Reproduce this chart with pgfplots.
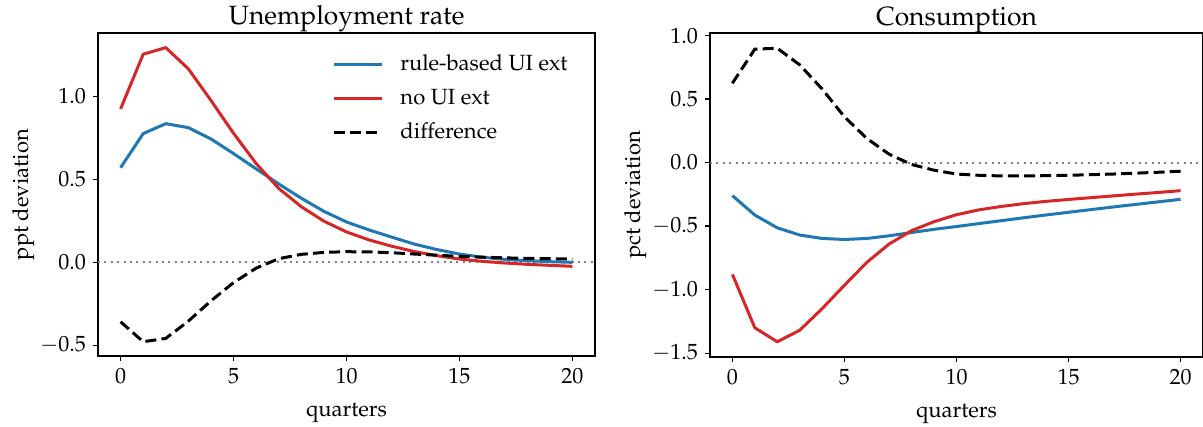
\documentclass[border=0pt]{standalone}
\usepackage[T1]{fontenc}
\usepackage{mathpazo}
\usepackage{pgfplots}
\pgfplotsset{compat=1.18}

\definecolor{tabblue}{HTML}{1F77B4}
\definecolor{tabred}{HTML}{D62728}

\pgfplotsset{
  irf/.style={
    scale only axis,
    anchor=south west,
    font=\fontsize{11}{13}\selectfont,
    xmin=-1, xmax=21,
    xtick={0,5,10,15,20},
    tick align=outside,
    tick pos=left,
    major tick length=2.5pt,
    every tick/.style={black, line width=0.65pt},
    axis line style={line width=0.65pt},
    yticklabel style={/pgf/number format/.cd, fixed, fixed zerofill, precision=1},
    title style={font=\fontsize{13.2}{15}\selectfont, at={(0.5,1)}, anchor=base, yshift=-2pt},
    xlabel style={at={(axis description cs:0.5,0)}, anchor=base, yshift=-30pt},
    ylabel style={at={(axis description cs:0,0.5)}, anchor=base, yshift=35pt},
    xlabel={quarters},
    legend image code/.code={
      \draw[#1] (0pt,0pt) -- (24pt,0pt);
    },
  },
  zeroline/.style={gray, line width=1pt, dash pattern=on 1pt off 2.2pt, forget plot},
  blueline/.style={tabblue, line width=1.5pt, line join=round},
  redline/.style={tabred, line width=1.5pt, line join=round},
  diffline/.style={black, line width=1.5pt, dash pattern=on 5.5pt off 2.6pt},
}

\begin{document}
\begin{tikzpicture}
\begin{axis}[irf,
  at={(49pt,-178pt)},
  width=248.5pt, height=161.5pt,
  ymin=-0.564, ymax=1.381,
  ytick={-0.5,0,0.5,1.0},
  title={Unemployment rate},
  ylabel={ppt deviation},
  legend cell align=left,
  legend style={draw=none, fill=none, at={(0.471,1)}, anchor=north west,
    yshift=-10.5pt, inner sep=0pt, row sep=6.5pt, column sep=0pt,
    /tikz/every odd column/.append style={column sep=8.5pt},
    nodes={inner sep=0pt, text height=8pt, text depth=2.5pt}},
]
\addplot[zeroline] coordinates {(-1,0) (21,0)};
\addplot[blueline] coordinates {
(0,0.570) (1,0.775) (2,0.835) (3,0.811) (4,0.743) (5,0.655) (6,0.563)
(7,0.472) (8,0.386) (9,0.307) (10,0.243) (11,0.195) (12,0.152) (13,0.110)
(14,0.077) (15,0.050) (16,0.031) (17,0.018) (18,0.010) (19,0.004) (20,0.000)
};
\addlegendentry{rule-based UI ext}
\addplot[redline] coordinates {
(0,0.924) (1,1.253) (2,1.293) (3,1.165) (4,0.975) (5,0.777) (6,0.595)
(7,0.445) (8,0.335) (9,0.248) (10,0.183) (11,0.135) (12,0.097) (13,0.065)
(14,0.040) (15,0.020) (16,0.006) (17,-0.004) (18,-0.012) (19,-0.018) (20,-0.024)
};
\addlegendentry{no UI ext}
\addplot[diffline] coordinates {
(0,-0.358) (1,-0.478) (2,-0.458) (3,-0.354) (4,-0.232) (5,-0.122) (6,-0.035)
(7,0.022) (8,0.048) (9,0.060) (10,0.064) (11,0.063) (12,0.058) (13,0.050)
(14,0.043) (15,0.036) (16,0.031) (17,0.027) (18,0.024) (19,0.022) (20,0.020)
};
\addlegendentry{difference}
\end{axis}

\begin{axis}[irf,
  at={(355pt,-178.5pt)},
  width=246.5pt, height=162pt,
  ymin=-1.53, ymax=1.02,
  ytick={-1.5,-1.0,-0.5,0,0.5,1.0},
  title={Consumption},
  ylabel={pct deviation},
]
\addplot[zeroline] coordinates {(-1,0) (21,0)};
\addplot[blueline] coordinates {
(0,-0.260) (1,-0.413) (2,-0.513) (3,-0.570) (4,-0.597) (5,-0.605) (6,-0.597)
(7,-0.576) (8,-0.550) (9,-0.525) (10,-0.503) (11,-0.480) (12,-0.457) (13,-0.434)
(14,-0.412) (15,-0.391) (16,-0.370) (17,-0.349) (18,-0.329) (19,-0.309) (20,-0.289)
};
\addplot[redline] coordinates {
(0,-0.880) (1,-1.300) (2,-1.410) (3,-1.320) (4,-1.150) (5,-0.965) (6,-0.785)
(7,-0.640) (8,-0.535) (9,-0.465) (10,-0.410) (11,-0.372) (12,-0.345) (13,-0.323)
(14,-0.305) (15,-0.290) (16,-0.276) (17,-0.262) (18,-0.248) (19,-0.235) (20,-0.221)
};
\addplot[diffline] coordinates {
(0,0.625) (1,0.893) (2,0.900) (3,0.770) (4,0.580) (5,0.360) (6,0.190)
(7,0.065) (8,-0.015) (9,-0.060) (10,-0.090) (11,-0.100) (12,-0.105) (13,-0.105)
(14,-0.103) (15,-0.100) (16,-0.095) (17,-0.090) (18,-0.083) (19,-0.076) (20,-0.068)
};
\end{axis}

\pgfresetboundingbox
\path[use as bounding box] (0pt,0pt) rectangle (601.5pt,-213.5pt);
\end{tikzpicture}
\end{document}
